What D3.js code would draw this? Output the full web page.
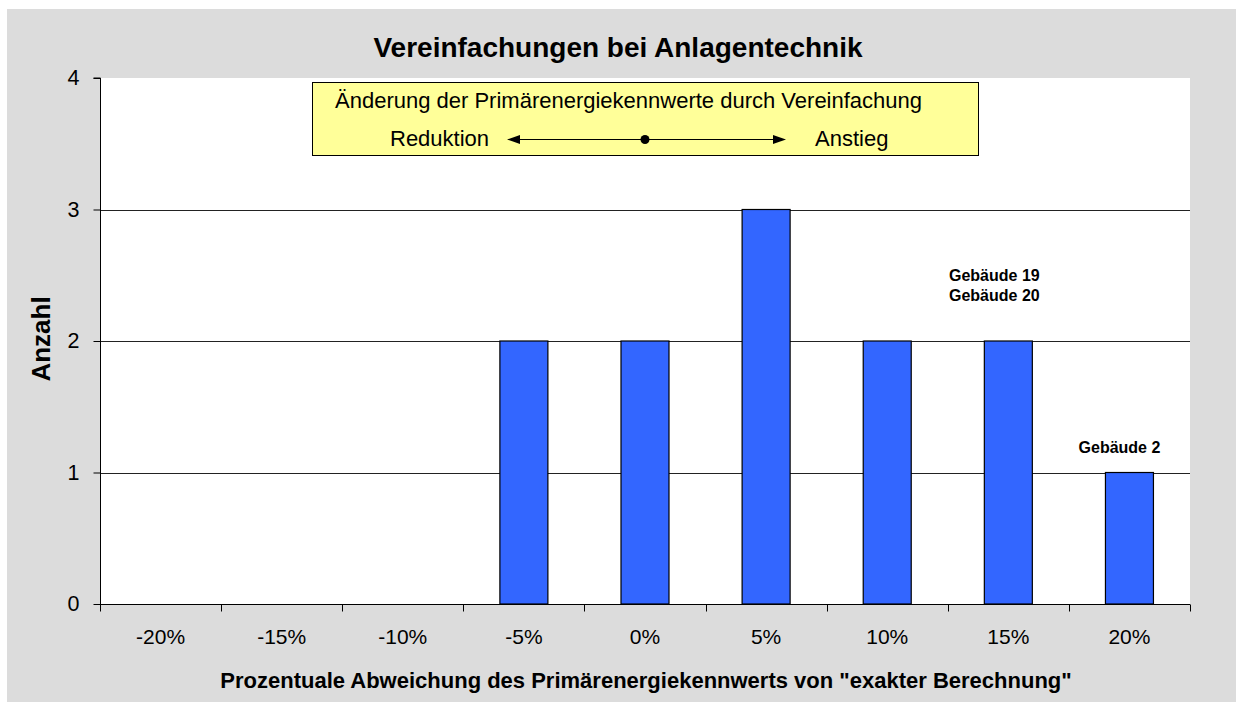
<!DOCTYPE html>
<html><head><meta charset="utf-8">
<script src="https://cdn.jsdelivr.net/npm/d3@7"></script>
<style>body{margin:0;background:#fff}svg{display:block}text{font-family:Arial,"Liberation Sans",sans-serif}</style>
</head><body>
<svg id="c" width="1236" height="702"></svg>
<script>
const categories = ["-20%","-15%","-10%","-5%","0%","5%","10%","15%","20%"];
const counts = [0,0,0,2,2,3,2,2,1];
const yTicks = [0,1,2,3,4];
const barLabels = [
  {cat:"15%", lines:["Gebäude 19","Gebäude 20"], at:2.46, dx:-14},
  {cat:"20%", lines:["Gebäude 2"], at:1.15, dx:-10}
];
const title = "Vereinfachungen bei Anlagentechnik";
const xTitle = 'Prozentuale Abweichung des Primärenergiekennwerts von "exakter Berechnung"';
const yTitle = "Anzahl";
const boxTitle = "Änderung der Primärenergiekennwerte durch Vereinfachung";
const boxLeft = "Reduktion", boxRight = "Anstieg";

const svg = d3.select("#c");
svg.append("rect").attr("x",7).attr("y",9).attr("width",1229).attr("height",693).attr("fill","#dcdcdc");

const L=100, R=1190, T=78, B=604;
const xb = d3.scaleBand().domain(categories).range([L,R]);
const y = d3.scaleLinear().domain([0,4]).range([B,T]);

svg.append("rect").attr("x",L).attr("y",T).attr("width",R-L).attr("height",B-T).attr("fill","#fff");

// gridlines
svg.append("g").selectAll("line").data([1,2,3]).join("line")
  .attr("x1",L).attr("x2",R).attr("y1",d=>Math.round(y(d))+0.5).attr("y2",d=>Math.round(y(d))+0.5)
  .attr("stroke","#222").attr("stroke-width",1);

// bars
svg.append("g").selectAll("rect").data(categories.map((c,i)=>({c,v:counts[i]})).filter(d=>d.v>0)).join("rect")
  .attr("x",d=>xb(d.c)+xb.bandwidth()/2-24).attr("width",48)
  .attr("y",d=>y(d.v)).attr("height",d=>B-y(d.v))
  .attr("fill","#3366ff").attr("stroke","#000").attr("stroke-width",1.2);

// y axis
const ya = svg.append("g").attr("transform",`translate(${L+0.5},0)`)
  .call(d3.axisLeft(y).tickValues(yTicks).tickFormat(d3.format("d")).tickSize(7).tickPadding(14));
ya.select(".domain").attr("stroke","#000").attr("d",`M-7,${T}H0V${B}`);
ya.selectAll(".tick line").attr("stroke","#000");
ya.selectAll("text").attr("font-size",21.5).attr("fill","#000").attr("font-family","Arial, Liberation Sans, sans-serif");

// x axis (ticks at band boundaries)
const xa = svg.append("g").attr("transform",`translate(0,${B+0.5})`);
xa.append("line").attr("x1",L).attr("x2",R).attr("stroke","#000");
const bounds = categories.map(c=>xb(c)).concat([R]);
xa.selectAll("line.t").data(bounds).join("line").attr("class","t")
  .attr("x1",d=>Math.round(d)+0.5).attr("x2",d=>Math.round(d)+0.5).attr("y1",0).attr("y2",7).attr("stroke","#000");
xa.selectAll("text").data(categories).join("text")
  .attr("x",d=>xb(d)+xb.bandwidth()/2).attr("y",39).attr("text-anchor","middle")
  .attr("font-size",21).attr("fill","#000").text(d=>d);

// bar labels
barLabels.forEach(b=>{
  const cx = xb(b.cat)+xb.bandwidth()/2+b.dx;
  const t = svg.append("text").attr("text-anchor","middle").attr("font-size",16).attr("font-weight","bold")
    .attr("x",cx).attr("y",y(b.at));
  b.lines.forEach((ln,i)=>t.append("tspan").attr("x",cx).attr("dy",i?20:0).text(ln));
});

// title and axis titles
svg.append("text").attr("x",618).attr("y",57).attr("text-anchor","middle").attr("font-size",28).attr("font-weight","bold").text(title);
svg.append("text").attr("x",646).attr("y",688).attr("text-anchor","middle").attr("font-size",22).attr("font-weight","bold").text(xTitle);
svg.append("text").attr("transform",`translate(50,339) rotate(-90)`).attr("text-anchor","middle").attr("font-size",26).attr("font-weight","bold").text(yTitle);

// annotation box
const bx=312.5, by=82.5, bw=666, bh=73;
svg.append("rect").attr("x",bx).attr("y",by).attr("width",bw).attr("height",bh).attr("fill","#ffff99").attr("stroke","#000").attr("stroke-width",1);
svg.append("text").attr("x",335).attr("y",108).attr("font-size",22).text(boxTitle);
svg.append("text").attr("x",390).attr("y",146).attr("font-size",22).text(boxLeft);
svg.append("text").attr("x",815).attr("y",146).attr("font-size",22).text(boxRight);
const ay=139.5;
svg.append("line").attr("x1",515).attr("x2",777).attr("y1",ay).attr("y2",ay).attr("stroke","#000").attr("stroke-width",1.2);
svg.append("path").attr("d",`M507,${ay}L520,${ay-4.5}L520,${ay+4.5}Z`).attr("fill","#000");
svg.append("path").attr("d",`M786,${ay}L773,${ay-4.5}L773,${ay+4.5}Z`).attr("fill","#000");
svg.append("circle").attr("cx",645).attr("cy",ay).attr("r",4.5).attr("fill","#000");
</script>
</body></html>
